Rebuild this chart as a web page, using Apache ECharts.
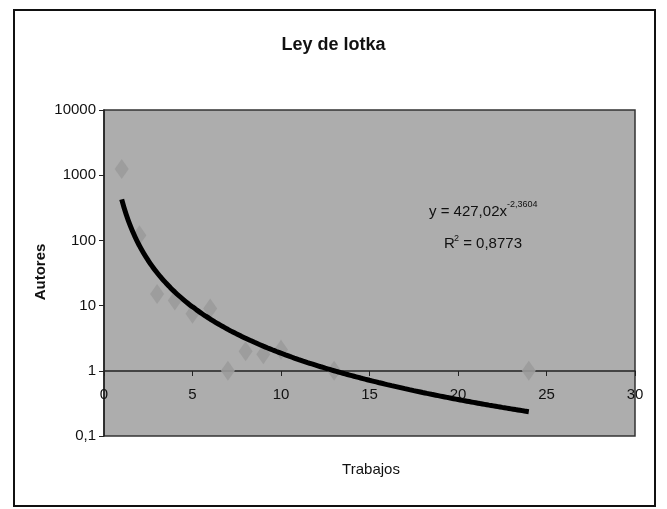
<!DOCTYPE html>
<html>
<head>
<meta charset="utf-8">
<script src="https://cdn.jsdelivr.net/npm/echarts@6/dist/echarts.min.js"></script>
<style>
html,body{margin:0;padding:0;background:#fff;}
#c{width:667px;height:509px;}
</style>
</head>
<body>
<div id="c"></div>
<script>
// Observed data (Trabajos vs Autores)
const trabajos = [1, 2, 3, 4, 5, 6, 7, 8, 9, 10, 13, 24];
const autores  = [1250, 120, 15, 12, 7.5, 9, 1, 2, 1.8, 2.1, 1, 1];
// Power trendline as printed on the chart: y = 427,02 x^-2,3604
const trendA = 427.02;
const trendB = -2.3604;
const trendXMin = 1, trendXMax = 24;
const xTicks = [0, 5, 10, 15, 20, 25, 30];
const yTicks = [0.1, 1, 10, 100, 1000, 10000];

const FONT = "'Liberation Sans Narrow', 'Liberation Sans', Arial, sans-serif";

const scatterData = trabajos.map((x, i) => [x, autores[i]]);
const trendData = [];
for (let x = trendXMin; x <= trendXMax + 1e-9; x += 0.25) {
  trendData.push([x, trendA * Math.pow(x, trendB)]);
}

const chart = echarts.init(document.getElementById('c'), null, {renderer: 'canvas'});
chart.setOption({
  backgroundColor: '#fff',
  animation: false,
  title: {
    text: 'Ley de lotka',
    left: 'center',
    top: 31,
    textStyle: {fontFamily: FONT, fontSize: 18, fontWeight: 'bold', color: '#111'}
  },
  grid: {
    left: 104, right: 32, top: 110, bottom: 73,
    containLabel: false,
    outerBoundsMode: 'none',
    show: true,
    backgroundColor: '#adadad',
    borderColor: '#333',
    borderWidth: 1.5
  },
  xAxis: {
    type: 'value',
    min: 0, max: 30, interval: 5,
    position: 'bottom',
    offset: -65,
    axisLine: {show: true, lineStyle: {color: '#222', width: 1.5}},
    axisTick: {show: true, inside: false, length: 5, lineStyle: {color: '#222'}},
    axisLabel: {fontFamily: FONT, fontSize: 15, color: '#111', margin: 16,
      formatter: v => xTicks.includes(v) ? String(v) : ''},
    splitLine: {show: false}
  },
  yAxis: {
    type: 'log',
    logBase: 10,
    min: 0.1, max: 10000,
    axisLine: {show: true, lineStyle: {color: '#222', width: 1.5}},
    axisTick: {show: true, inside: false, length: 5, lineStyle: {color: '#222'}},
    axisLabel: {fontFamily: FONT, fontSize: 15, color: '#111', margin: 8,
      formatter: v => {
        const t = yTicks.find(k => Math.abs(k - v) / k < 1e-6);
        return t === undefined ? '' : String(t).replace('.', ',');
      }},
    splitLine: {show: false},
    minorTick: {show: false}
  },
  series: [
    {
      type: 'scatter',
      data: scatterData,
      symbol: 'diamond',
      symbolSize: [14, 20],
      itemStyle: {color: '#9b9b9b', opacity: 0.9},
      z: 2
    },
    {
      type: 'line',
      data: trendData,
      showSymbol: false,
      smooth: true,
      lineStyle: {color: '#000', width: 5},
      z: 3
    }
  ],
  graphic: [
    {type: 'rect', shape: {x: 14, y: 10, width: 641, height: 496},
     style: {fill: 'none', stroke: '#111', lineWidth: 2}, z: 100, silent: true},
    {type: 'text', x: 371, y: 470,
     style: {text: 'Trabajos', font: '15px ' + FONT, fill: '#111', align: 'center', verticalAlign: 'middle'}},
    {type: 'text', x: 41, y: 272, rotation: Math.PI / 2,
     style: {text: 'Autores', font: 'bold 15px ' + FONT, fill: '#111', align: 'center', verticalAlign: 'middle'}},
    {type: 'text', left: 429, top: 204,
     style: {text: 'y = 427,02x', font: '15px ' + FONT, fill: '#111'}},
    {type: 'text', left: 507, top: 200,
     style: {text: '-2,3604', font: '9px ' + FONT, fill: '#111'}},
    {type: 'text', left: 444, top: 236,
     style: {text: 'R', font: '15px ' + FONT, fill: '#111'}},
    {type: 'text', left: 454, top: 234,
     style: {text: '2', font: '9px ' + FONT, fill: '#111'}},
    {type: 'text', left: 459, top: 236,
     style: {text: ' = 0,8773', font: '15px ' + FONT, fill: '#111'}}
  ]
});
</script>
</body>
</html>
